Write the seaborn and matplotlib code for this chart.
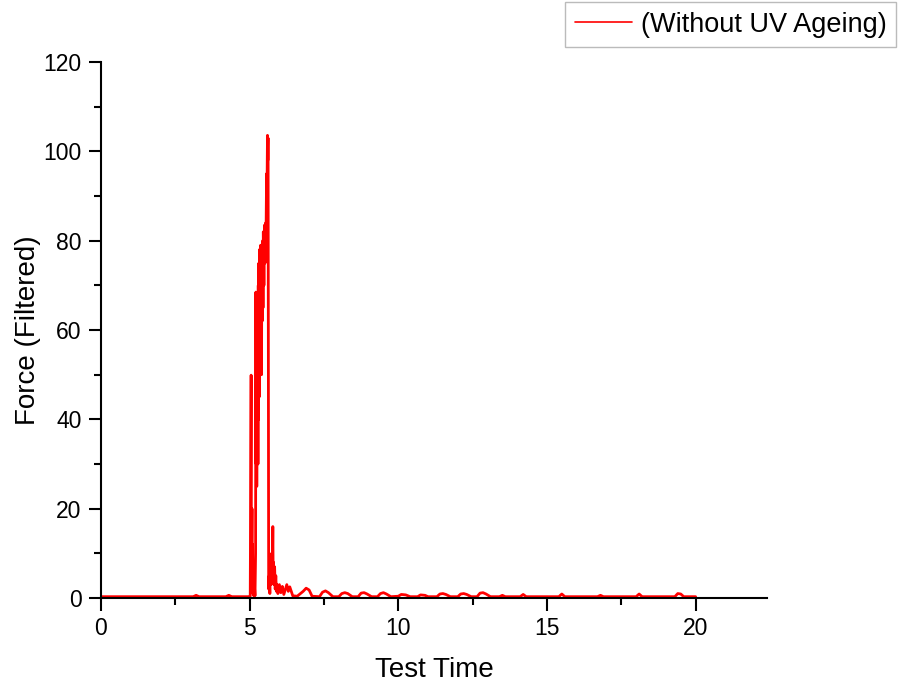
import matplotlib
matplotlib.use("Agg")
import matplotlib.pyplot as plt
import seaborn as sns
import pandas as pd
from matplotlib.ticker import MultipleLocator

# Force trace of the impact test (time in s, filtered force)
test_time = [
    0.00, 3.10, 3.20, 3.30, 4.20, 4.30, 4.40, 4.95, 5.02,
    5.05, 5.06, 5.08, 5.09, 5.10, 5.11, 5.12, 5.14, 5.16, 5.18, 5.20,
    5.21, 5.22, 5.23, 5.24, 5.25, 5.26, 5.27, 5.28, 5.29, 5.30,
    5.31, 5.32, 5.33, 5.34, 5.35, 5.36, 5.37, 5.38, 5.39, 5.40,
    5.41, 5.42, 5.44, 5.45, 5.46, 5.48, 5.50, 5.52, 5.54, 5.55,
    5.57, 5.58, 5.60, 5.61, 5.62, 5.63, 5.64, 5.66, 5.68, 5.70,
    5.72, 5.74, 5.76, 5.78, 5.79, 5.80, 5.82, 5.84, 5.86, 5.88,
    5.90, 5.92, 5.95, 6.00, 6.05, 6.10, 6.15, 6.25, 6.30, 6.35,
    6.45, 6.60, 6.80, 6.90, 7.00, 7.10, 7.35, 7.45, 7.55, 7.65,
    7.80, 8.00, 8.10, 8.20, 8.30, 8.45, 8.65, 8.75, 8.85, 8.95,
    9.10, 9.30, 9.40, 9.50, 9.60, 9.75, 10.00, 10.10, 10.25, 10.40,
    10.65, 10.75, 10.90, 11.00, 11.30, 11.40, 11.50, 11.60, 11.75, 12.00,
    12.10, 12.20, 12.30, 12.45, 12.65, 12.75, 12.85, 12.95, 13.10, 13.40,
    13.50, 13.60, 14.10, 14.20, 14.30, 15.40, 15.50, 15.60, 16.70, 16.80,
    16.90, 18.00, 18.10, 18.20, 19.30, 19.40, 19.50, 19.60, 20.00,
]
force = [
    0.3, 0.3, 0.6, 0.3, 0.3, 0.6, 0.3, 0.3, 0.4,
    49.9, 5.0, 20.0, 2.0, 12.0, 1.0, 8.0, 0.5, 3.0, 0.5, 10.0,
    68.5, 30.0, 60.0, 25.0, 55.0, 35.0, 65.0, 30.0, 70.0, 40.0,
    75.0, 45.0, 78.0, 50.0, 70.0, 55.0, 79.0, 60.0, 72.0, 50.0,
    78.0, 62.0, 80.0, 65.0, 82.0, 70.0, 83.5, 75.0, 84.0, 80.0,
    95.0, 88.0, 103.6, 98.0, 103.0, 60.0, 2.0, 5.0, 1.0, 8.0,
    3.0, 10.0, 4.0, 16.0, 6.0, 8.0, 3.0, 7.0, 2.0, 5.0,
    1.5, 3.0, 1.0, 3.0, 1.2, 2.6, 0.8, 3.0, 1.5, 2.5,
    0.5, 0.4, 1.5, 2.2, 1.8, 0.4, 0.3, 1.3, 1.6, 1.2,
    0.3, 0.3, 1.0, 1.2, 1.0, 0.3, 0.3, 1.1, 1.2, 0.9,
    0.3, 0.3, 1.0, 1.2, 0.9, 0.3, 0.4, 0.8, 0.7, 0.3,
    0.3, 0.7, 0.6, 0.3, 0.3, 0.9, 1.0, 0.8, 0.3, 0.3,
    0.9, 1.0, 0.8, 0.3, 0.3, 1.1, 1.2, 0.9, 0.3, 0.3,
    0.6, 0.3, 0.3, 0.8, 0.3, 0.3, 0.9, 0.3, 0.3, 0.6,
    0.3, 0.3, 0.9, 0.3, 0.3, 1.0, 0.9, 0.3, 0.3,
]
series_label = "(Without UV Ageing)"
x_label = "Test Time"
y_label = "Force (Filtered)"

sns.set_style("ticks")
plt.rcParams["font.family"] = ["Liberation Sans", "DejaVu Sans"]
plt.rcParams["text.color"] = "black"
plt.rcParams["axes.labelcolor"] = "black"

df = pd.DataFrame({"time": test_time, "force": force})

fig = plt.figure(figsize=(9, 6.9), dpi=100)
ax = fig.add_axes([0.1122, 0.1333, 0.74, 0.7767])

sns.lineplot(data=df, x="time", y="force", ax=ax, color="#ff0000",
             linewidth=2.0, estimator=None, sort=False, label=series_label)

ax.set_xlim(0, 22.4)
ax.set_ylim(0, 120)
ax.xaxis.set_major_locator(MultipleLocator(5))
ax.xaxis.set_minor_locator(MultipleLocator(2.5))
ax.yaxis.set_major_locator(MultipleLocator(20))
ax.yaxis.set_minor_locator(MultipleLocator(10))

for side in ("top", "right"):
    ax.spines[side].set_visible(False)
for side in ("left", "bottom"):
    ax.spines[side].set_linewidth(1.5)
    ax.spines[side].set_color("black")

ax.tick_params(which="major", direction="out", length=9, width=1.5,
               labelsize=16.5, colors="black", pad=5)
ax.tick_params(which="minor", direction="out", length=5, width=1.5,
               colors="black")

ax.set_xlabel(x_label, fontsize=20, labelpad=12, color="black")
ax.set_ylabel(y_label, fontsize=20, labelpad=2, color="black")

ax.get_legend().remove()
handles, labels = ax.get_legend_handles_labels()
leg = fig.legend(handles, labels, loc="upper right",
                 bbox_to_anchor=(0.996, 0.997), fontsize=19.5,
                 frameon=True, fancybox=False, handlelength=2.1,
                 borderpad=0.35, handletextpad=0.35, borderaxespad=0,
                 labelcolor="black")
leg.get_frame().set_edgecolor("#aaaaaa")
leg.get_frame().set_linewidth(1.0)
for line in leg.get_lines():
    line.set_linewidth(1.2)

fig.savefig("out.png", dpi=100, facecolor="white")
